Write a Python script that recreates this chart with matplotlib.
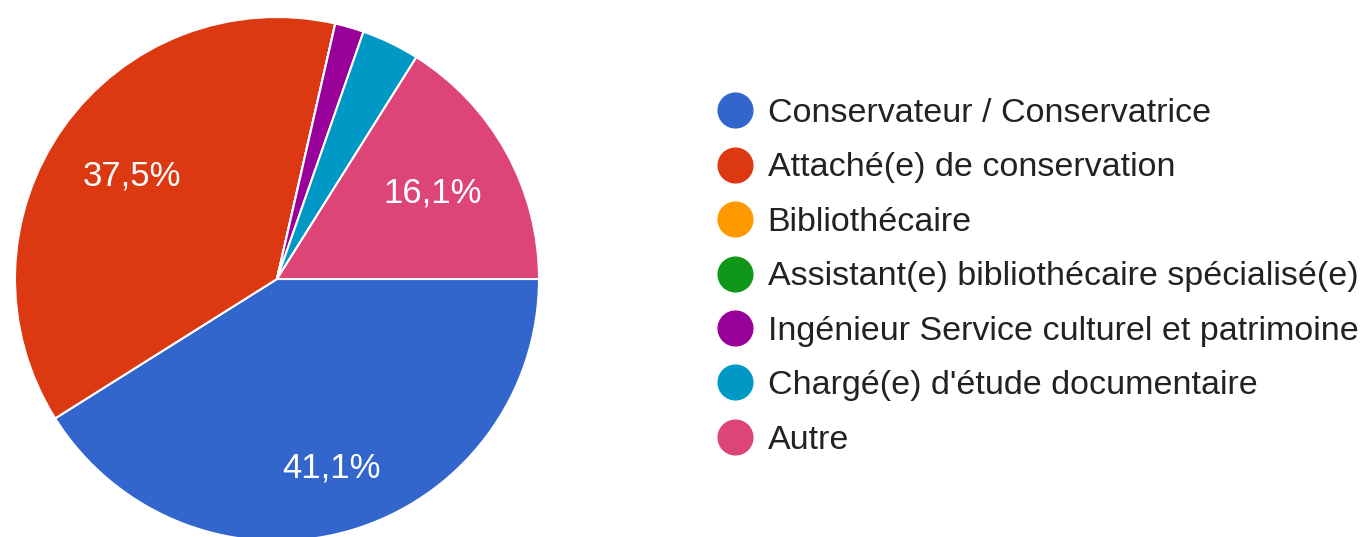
import matplotlib.pyplot as plt
from matplotlib.lines import Line2D
import numpy as np

plt.rcParams['font.family'] = ['Liberation Sans', 'DejaVu Sans']

# réponses (56 au total)
categories = ['Conservateur / Conservatrice', 'Attaché(e) de conservation', 'Bibliothécaire',
              'Assistant(e) bibliothécaire spécialisé(e)', 'Ingénieur Service culturel et patrimoine',
              "Chargé(e) d'étude documentaire", 'Autre']
counts = [23, 21, 0, 0, 1, 2, 9]
colors = ['#3366CC', '#DC3912', '#FF9900', '#109618', '#990099', '#0099C6', '#DD4477']

W, H = 1368, 537
fig = plt.figure(figsize=(W / 100, H / 100), dpi=100)

# pie centre (277, 279) px, radius 262 px
cx, cy, r = 277, 279, 262
ax = fig.add_axes([(cx - r) / W, (H - cy - r) / H, 2 * r / W, 2 * r / H])

total = sum(counts)
wedges, _ = ax.pie(counts, colors=colors, startangle=0, counterclock=False,
                   wedgeprops=dict(edgecolor='white', linewidth=1.5))
ax.set_xlim(-1, 1)
ax.set_ylim(-1, 1)
ax.set_aspect('equal')

# percentage labels for the bigger slices
for w, c in zip(wedges, counts):
    pct = 100 * c / total
    if pct < 5:
        continue
    mid = np.deg2rad((w.theta1 + w.theta2) / 2)
    d = 0.75 if pct > 40 else 0.68
    ax.text(d * np.cos(mid), d * np.sin(mid), f'{pct:.1f}%'.replace('.', ','),
            ha='center', va='center', color='white', fontsize=25)

handles = [Line2D([], [], marker='o', linestyle='', markersize=25,
                  markerfacecolor=col, markeredgecolor=col) for col in colors]
fig.legend(handles, categories, loc='upper left', bbox_to_anchor=(717.5 / W, 1 - 98 / H),
           frameon=False, fontsize=24.5, labelcolor='#222222', handlelength=1.0,
           handletextpad=0.47, labelspacing=0.69, borderpad=0, borderaxespad=0)

fig.savefig('out.png', dpi=100)
